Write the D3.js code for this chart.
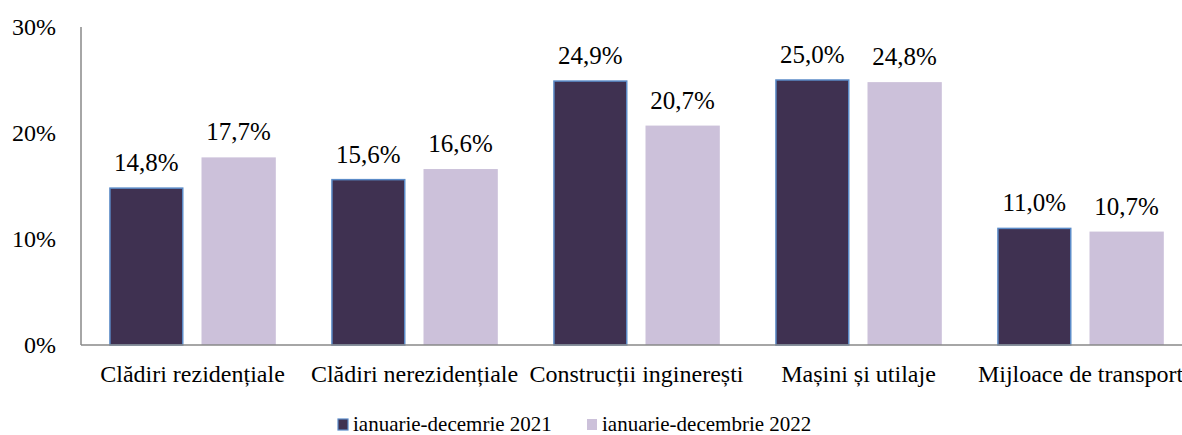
<!DOCTYPE html>
<html><head><meta charset="utf-8">
<script src="https://cdn.jsdelivr.net/npm/d3@7"></script>
<style>html,body{margin:0;padding:0;background:#fff;overflow:hidden}svg{display:block}
svg text{font-family:"Liberation Serif","Times New Roman",Tinos,"Nimbus Roman","DejaVu Serif",serif !important;}
</style>
</head><body>
<svg id="c" width="1182" height="435"></svg>
<script>
const categories = ["Clădiri rezidențiale","Clădiri nerezidențiale","Construcții inginerești","Mașini și utilaje","Mijloace de transport"];
const seriesNames = ["ianuarie-decemrie 2021","ianuarie-decembrie 2022"];
const values2021 = [14.8, 15.6, 24.9, 25.0, 11.0];
const values2022 = [17.7, 16.6, 20.7, 24.8, 10.7];
const yTicks = [0, 10, 20, 30];

const svg = d3.select("#c");
const x0 = d3.scaleBand().domain(categories).range([81.5, 1191.5]).paddingInner(0).paddingOuter(0);
const x1 = d3.scaleBand().domain(seriesNames).range([0, x0.bandwidth()]).paddingInner(0.195).paddingOuter(0.3);
const y = d3.scaleLinear().domain([0, 30]).range([345, 27]);
const fills = ["#3F3151", "#CCC1DA"];
const strokes = ["#5B8BC8", "none"];

// y axis
const yAxis = d3.axisLeft(y).tickValues(yTicks).tickSize(0).tickPadding(0).tickFormat(d => d + "%");
const ya = svg.append("g").attr("transform", "translate(81,0)").call(yAxis);
ya.select(".domain").remove();
ya.selectAll("text").attr("x", -25).attr("dy", "0.32em").attr("font-size", 24).attr("fill", "#000");
svg.append("line").attr("x1", 81).attr("x2", 81).attr("y1", y(30)).attr("y2", y(0)).attr("stroke", "#898989").attr("stroke-width", 1.5);

const data = categories.map((c, i) => ({c, vals: [values2021[i], values2022[i]]}));
const g = svg.selectAll("g.grp").data(data).join("g").attr("class", "grp").attr("transform", d => `translate(${x0(d.c)},0)`);
g.selectAll("rect").data(d => d.vals.map((v, j) => ({v, s: seriesNames[j], j}))).join("rect")
  .attr("x", d => x1(d.s) + (d.j === 0 ? 0.75 : 0)).attr("width", d => x1.bandwidth() - (d.j === 0 ? 1.5 : 0))
  .attr("y", d => y(d.v)).attr("height", d => y(0) - y(d.v))
  .attr("fill", d => fills[d.j]).attr("stroke", d => strokes[d.j]).attr("stroke-width", 1.5);
g.selectAll("text.lbl").data(d => d.vals.map((v, j) => ({v, s: seriesNames[j], j}))).join("text").attr("class", "lbl")
  .attr("x", d => x1(d.s) + x1.bandwidth() / 2).attr("y", d => y(d.v) - 17)
  .attr("text-anchor", "middle").attr("font-size", 25)
  .text(d => d.v.toFixed(1).replace(".", ",") + "%");

// x axis
const xAxis = d3.axisBottom(x0).tickSize(0).tickPadding(0);
const xa = svg.append("g").attr("transform", "translate(0,345)").call(xAxis);
xa.select(".domain").remove();
xa.selectAll("text").attr("y", 37).attr("dy", 0).attr("font-size", 24).attr("fill", "#000");
svg.append("line").attr("x1", 81).attr("x2", 1182).attr("y1", y(0)).attr("y2", y(0)).attr("stroke", "#898989").attr("stroke-width", 1.5);

// legend
const legX = [338, 587];
const lg = svg.selectAll("g.leg").data(seriesNames).join("g").attr("class", "leg").attr("transform", (d, i) => `translate(${legX[i]},419)`);
lg.append("rect").attr("width", 10).attr("height", 11).attr("fill", (d, i) => fills[i]).attr("stroke", (d, i) => strokes[i]).attr("stroke-width", 1.2);
lg.append("text").attr("x", 15).attr("y", 11.5).attr("font-size", 21).text(d => d);
</script>
</body></html>
